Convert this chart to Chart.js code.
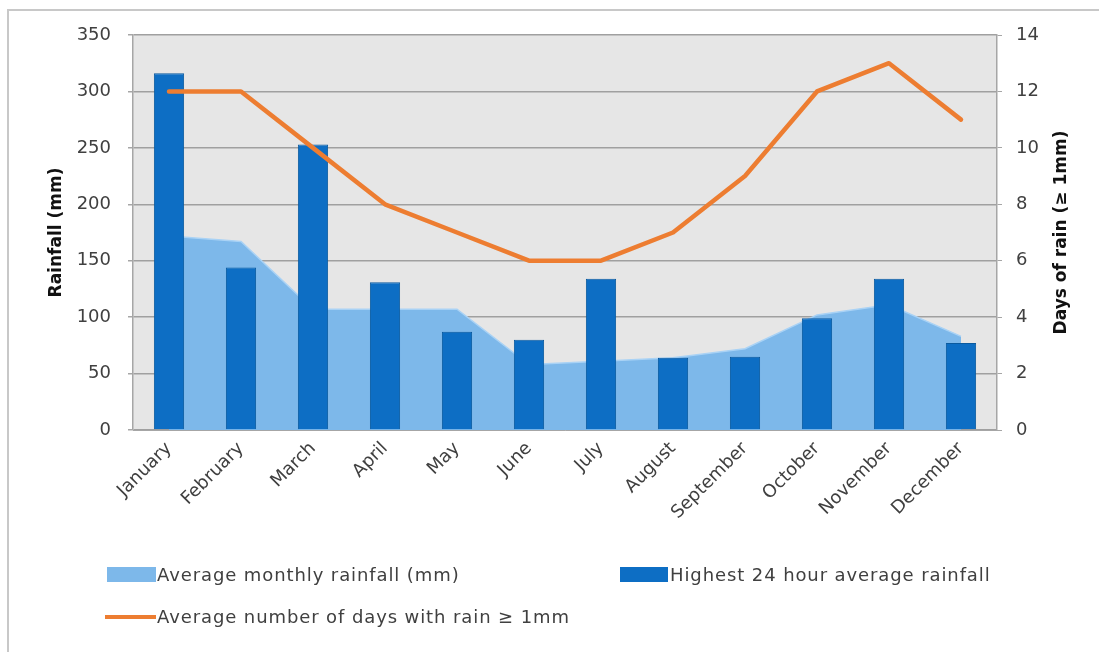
<!DOCTYPE html>
<html>
<head>
<meta charset="utf-8">
<script src="https://cdn.jsdelivr.net/npm/chart.js@4/dist/chart.umd.min.js"></script>
<style>
  html, body { margin: 0; padding: 0; background: #ffffff; overflow: hidden; }
  #wrap { position: relative; width: 1099px; height: 652px; }
  #frame { position: absolute; left: 7px; top: 9px; width: 1200px; height: 800px;
           border-top: 2px solid #c8c8c8; border-left: 2px solid #c8c8c8; }
  canvas { position: absolute; left: 0; top: 0; }
  .leg { position: absolute; font-family: "DejaVu Sans", sans-serif; font-size: 18px; color: #404040;
         letter-spacing: 0.9px; white-space: nowrap; line-height: 20px; }
  .sw { position: absolute; }
</style>
</head>
<body>
<div id="wrap">
  <div id="frame"></div>
  <canvas id="c" width="1099" height="652"></canvas>
  <div class="sw" style="left:107px;top:567px;width:49px;height:15px;background:#7db8ea;"></div>
  <div class="leg" style="left:157px;top:565px;">Average monthly rainfall (mm)</div>
  <div class="sw" style="left:620px;top:567px;width:48px;height:15px;background:#0d6ec4;"></div>
  <div class="leg" style="left:670px;top:565px;">Highest 24 hour average rainfall</div>
  <div class="sw" style="left:105px;top:615px;width:51px;height:4px;background:#ed7d31;"></div>
  <div class="leg" style="left:157px;top:607px;">Average number of days with rain ≥ 1mm</div>
</div>
<script>
// Monthly climate figures
const months = ["January", "February", "March", "April", "May", "June",
                "July", "August", "September", "October", "November", "December"];
const avgMonthlyRainfall = [172, 167, 107, 107, 107, 58, 61, 64, 72, 102, 111, 83];
const highest24hRainfall = [316, 144, 253, 131, 87, 80, 134, 64, 65, 99, 134, 77];
const rainDays = [12, 12, 10, 8, 7, 6, 6, 7, 9, 12, 13, 11];

const leftTicks = [0, 50, 100, 150, 200, 250, 300, 350];
const rightTicks = [0, 2, 4, 6, 8, 10, 12, 14];

const rightTitle = "Days of rain (≥ 1mm)";

const tickFont = { family: "DejaVu Sans", size: 18 };
const titleFont = { family: "DejaVu Sans", size: 17, weight: "bold" };

// Grey plot-area background
const plotBackground = {
  id: "plotBackground",
  beforeDraw(chart) {
    const { ctx, chartArea: a } = chart;
    ctx.save();
    ctx.fillStyle = "#e6e6e6";
    ctx.fillRect(a.left, a.top, a.right - a.left, a.bottom - a.top);
    ctx.restore();
  }
};

// Right axis title, reading bottom-to-top like the left one
const rightAxisTitle = {
  id: "rightAxisTitle",
  afterDraw(chart) {
    const { ctx, chartArea: a } = chart;
    const s = chart.scales.y1;
    ctx.save();
    ctx.translate(s.right - 11, (a.top + a.bottom) / 2);
    ctx.rotate(-Math.PI / 2);
    ctx.font = "bold 17px 'DejaVu Sans'";
    ctx.fillStyle = "#111111";
    ctx.textAlign = "center";
    ctx.textBaseline = "middle";
    ctx.fillText(rightTitle, 0, 0);
    ctx.restore();
  }
};

new Chart(document.getElementById("c"), {
  type: "bar",
  data: {
    labels: months,
    datasets: [
      {
        type: "line",
        label: "Average number of days with rain ≥ 1mm",
        data: rainDays,
        yAxisID: "y1",
        borderColor: "#ed7d31",
        borderWidth: 4.5,
        borderJoinStyle: "round",
        borderCapStyle: "round",
        pointRadius: 0,
        tension: 0,
        fill: false,
        order: 0
      },
      {
        type: "bar",
        label: "Highest 24 hour average rainfall",
        data: highest24hRainfall,
        yAxisID: "y",
        backgroundColor: "#0d6ec4",
        borderColor: "#0a5a9f",
        borderWidth: 1,
        categoryPercentage: 1,
        barPercentage: 0.42,
        order: 1
      },
      {
        type: "line",
        label: "Average monthly rainfall (mm)",
        data: avgMonthlyRainfall,
        yAxisID: "y",
        borderColor: "#a9d2f5",
        borderWidth: 1.5,
        backgroundColor: "#7db8ea",
        pointRadius: 0,
        tension: 0,
        fill: "origin",
        order: 2
      }
    ]
  },
  options: {
    responsive: false,
    animation: false,
    layout: { padding: { left: 46, right: 26, top: 35, bottom: 0 } },
    plugins: { legend: { display: false }, tooltip: { enabled: false } },
    scales: {
      x: {
        offset: true,
        grid: { display: false, drawTicks: false },
        border: { color: "#a6a6a6", width: 1 },
        ticks: { color: "#404040", font: tickFont, maxRotation: 45, minRotation: 45, padding: 8 },
        afterFit(s) { s.height = 652 - 430; }
      },
      y: {
        position: "left",
        min: 0, max: 350,
        afterBuildTicks(s) { s.ticks = leftTicks.map(v => ({ value: v })); },
        grid: { color: "#a0a0a0", lineWidth: 1.5, tickLength: 5, tickColor: "#a6a6a6" },
        border: { color: "#a6a6a6", width: 1.5 },
        ticks: { color: "#404040", font: tickFont, padding: 17 },
        title: { display: true, text: "Rainfall (mm)", color: "#111111", font: titleFont, padding: 0 },
        afterFit(s) { s.width = 133 - 46; }
      },
      y1: {
        position: "right",
        min: 0, max: 14,
        afterBuildTicks(s) { s.ticks = rightTicks.map(v => ({ value: v })); },
        grid: { drawOnChartArea: false, tickLength: 5, tickColor: "#a6a6a6" },
        border: { color: "#a6a6a6", width: 1.5 },
        ticks: { color: "#404040", font: tickFont, padding: 14 },
        afterFit(s) { s.width = 1099 - 26 - 997; }
      }
    }
  },
  plugins: [plotBackground, rightAxisTitle]
});
</script>
</body>
</html>
